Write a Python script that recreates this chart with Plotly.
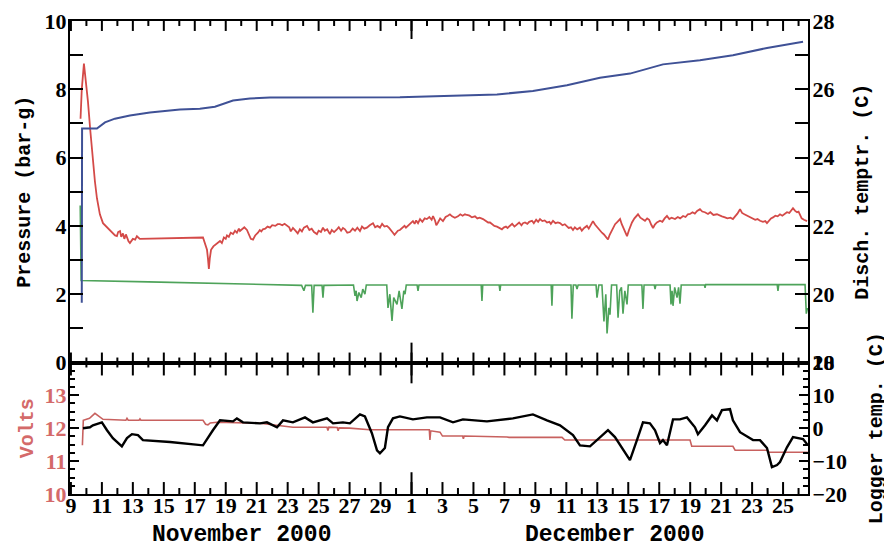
import plotly.graph_objects as go

# x values are days elapsed since 9 November 2000 00:00
X_RANGE_DAYS = [-0.06, 47.61]

# Top panel: discharge temperature (blue, right axis, deg C)
DISCH_T_DAY = [0.70, 0.72, 1.68, 2.2, 2.84, 3.81, 5.10, 7.04, 8.33, 9.30, 10.47, 11.56, 12.86,
               14.79, 21.25, 27.52, 29.84, 32.04, 34.17, 36.11, 38.24, 40.63, 42.76, 44.96, 47.29]
DISCH_T_VAL = [19.75, 24.85, 24.85, 25.03, 25.14, 25.23, 25.32, 25.41, 25.43, 25.49, 25.67, 25.73, 25.76,
               25.76, 25.77, 25.85, 25.95, 26.12, 26.34, 26.46, 26.73, 26.85, 27.00, 27.21, 27.39]

# Top panel: pressure (red, left axis, bar-g)
PRESS_A_DAY = [0.62, 0.70, 0.84, 0.95, 1.10, 1.25, 1.42, 1.55, 1.68, 1.87, 2.07, 2.25, 2.40, 2.52, 2.70, 2.85,
               2.97, 3.05, 3.17, 3.25, 3.36, 3.45, 3.55, 3.62, 3.72, 3.81, 3.92, 4.00, 4.15, 4.26, 4.35, 4.45,
               8.53, 8.65, 8.79, 8.85, 8.91, 8.97, 9.05, 9.20, 9.35, 9.50, 9.63, 9.75, 9.88, 10.0, 10.08,
               10.20, 10.32, 10.47, 10.60, 10.72, 10.85, 10.92, 11.05, 11.20, 11.37, 11.50, 11.62, 11.76,
               11.90, 12.08, 12.20, 12.30, 12.40, 12.55, 12.70, 12.86, 13.00, 13.20, 13.35, 13.50, 13.65,
               13.80, 13.95, 14.10, 14.20, 14.34, 14.50, 14.65, 14.79, 14.92, 15.05, 15.25, 15.40, 15.55,
               15.70, 15.89, 16.00, 16.15, 16.28, 16.40, 16.55, 16.73, 16.85, 17.00, 17.18, 17.30, 17.45,
               17.57, 17.70, 17.85, 18.02, 18.20, 18.35, 18.50, 18.67, 18.80, 18.95, 19.12, 19.30, 19.51,
               19.65, 19.80, 19.96, 20.10, 20.25, 20.41, 20.55, 20.68, 20.80, 20.90, 21.00, 21.12, 21.25,
               21.40, 21.55, 21.64, 21.80, 21.95, 22.09, 22.20, 22.30, 22.42, 22.55, 22.70, 22.85, 22.99,
               23.15, 23.30, 23.39, 23.52, 23.60, 23.71, 23.85, 24.03, 24.20, 24.35, 24.48, 24.62, 24.80,
               25.00, 25.15, 25.30, 25.45, 25.58, 25.75, 25.90, 26.10, 26.25, 26.40, 26.62, 26.80, 26.95,
               27.07, 27.20, 27.35, 27.52, 27.70, 27.84, 27.95, 28.10, 28.20, 28.36, 28.50, 28.65, 28.81,
               28.95, 29.10, 29.20, 29.33, 29.48, 29.60, 29.78, 29.90, 30.05, 30.18, 30.30, 30.45, 30.60,
               30.75, 30.90, 31.00, 31.14, 31.30, 31.45, 31.59, 31.75, 31.90, 32.04, 32.15, 32.30, 32.43,
               32.55, 32.70, 32.88, 33.00, 33.15, 33.33, 33.45, 33.60, 33.72, 33.85, 34.00, 34.17, 34.30,
               34.43, 34.55, 34.69, 34.80, 34.92, 35.01, 35.15, 35.30, 35.47, 35.58, 35.72, 35.82, 35.92,
               36.05, 36.24, 36.40, 36.50, 36.63, 36.78, 36.95, 37.08, 37.22, 37.35, 37.48, 37.60, 37.72,
               37.85, 38.05, 38.20, 38.35, 38.50, 38.65, 38.80, 39.02, 39.20, 39.35, 39.54, 39.70, 39.85,
               39.99, 40.15, 40.30, 40.45, 40.63, 40.78, 40.95, 41.15, 41.30, 41.50, 41.73, 41.90, 42.05,
               42.25, 42.40, 42.60, 42.76, 42.90, 43.05, 43.22, 43.35, 43.50, 43.67, 43.85, 44.06, 44.20,
               44.35, 44.51, 44.70, 44.85, 44.96, 45.10, 45.22, 45.35, 45.50, 45.65, 45.80, 45.95, 46.10,
               46.25, 46.40, 46.52, 46.64, 46.78, 46.90, 47.00, 47.09, 47.20, 47.35, 47.55]
PRESS_A_VAL = [7.14, 8.0, 8.75, 8.3, 7.64, 6.8, 5.89, 5.3, 4.81, 4.34, 4.08, 4.0, 3.92, 3.85, 3.78, 3.72,
               3.70, 3.82, 3.85, 3.68, 3.78, 3.62, 3.75, 3.66, 3.55, 3.50, 3.56, 3.62, 3.60, 3.70, 3.66, 3.62,
               3.66, 3.50, 3.30, 3.05, 2.74, 3.05, 3.30, 3.40, 3.45, 3.52, 3.56, 3.50, 3.66, 3.62, 3.72,
               3.68, 3.80, 3.76, 3.86, 3.80, 3.92, 3.85, 3.90, 3.96, 3.88, 3.74, 3.62, 3.60,
               3.72, 3.80, 3.88, 3.84, 3.90, 3.92, 3.98, 3.95, 4.02, 4.00, 4.05, 4.05, 4.02,
               4.06, 4.00, 3.96, 3.84, 3.94, 3.86, 3.78, 3.90, 3.84, 3.95, 4.00, 3.88, 3.92,
               3.82, 3.76, 3.86, 3.82, 3.95, 3.86, 3.90, 3.76, 3.88, 3.82, 3.90, 3.96, 3.86,
               3.94, 3.90, 3.80, 3.82, 3.92, 3.86, 3.95, 3.85, 3.98, 3.92, 3.95, 4.02, 4.08,
               3.96, 4.00, 3.95, 4.06, 3.98, 4.00, 3.94, 3.88, 3.80, 3.74, 3.80, 3.86, 3.88,
               3.95, 4.00, 3.95, 4.02, 4.10, 4.14, 4.06, 4.16, 4.08, 4.20, 4.12, 4.22, 4.20,
               4.26, 4.18, 4.29, 4.16, 4.02, 4.10, 4.22, 4.14, 4.26, 4.30, 4.34, 4.28, 4.24,
               4.28, 4.34, 4.30, 4.34, 4.32, 4.30, 4.25, 4.28, 4.22, 4.24, 4.20, 4.14, 4.10,
               4.10, 4.04, 4.00, 3.98, 3.92, 3.90, 3.95, 3.98, 3.94, 4.00, 4.06, 3.98, 4.05,
               4.10, 4.02, 4.08, 4.10, 4.06, 4.12, 4.15, 4.08, 4.18, 4.12, 4.20, 4.14, 4.16,
               4.10, 4.12, 4.06, 4.15, 4.08, 4.10, 4.08, 4.02, 4.05, 4.00, 3.94, 3.96, 3.88,
               3.96, 3.90, 3.95, 3.86, 3.94, 4.00, 3.92, 4.06, 4.14, 4.04, 3.96, 3.85, 3.80,
               3.75, 3.68, 3.60, 3.74, 3.86, 3.95, 4.05, 4.12, 4.20, 4.05, 3.90, 3.76, 3.70,
               3.88, 4.10, 4.22, 4.28, 4.34, 4.24, 4.20, 4.15, 4.22, 4.18, 4.04, 3.94, 4.04,
               4.10, 4.15, 4.12, 4.22, 4.29, 4.20, 4.24, 4.20, 4.26, 4.22, 4.29, 4.26, 4.34,
               4.35, 4.40, 4.36, 4.44, 4.49, 4.42, 4.40, 4.35, 4.40, 4.32, 4.34, 4.30, 4.28,
               4.25, 4.22, 4.24, 4.20, 4.28, 4.36, 4.49, 4.38, 4.34, 4.30, 4.26, 4.23, 4.18,
               4.20, 4.15, 4.12, 4.14, 4.08, 4.16, 4.22, 4.25, 4.30, 4.28, 4.34, 4.30, 4.36,
               4.40, 4.38, 4.46, 4.52, 4.44, 4.40, 4.42, 4.34, 4.22, 4.18, 4.14]

# Top panel: second pressure (green, left axis, bar-g)
PRESS_B_DAY = [0.60, 0.66, 5.0, 10.0, 14.9, 15.05, 15.15, 15.55, 15.63, 15.71, 16.22, 16.28, 16.34,
               18.25, 18.35, 18.42, 18.48, 18.60, 18.75, 18.85, 18.99, 19.08, 20.40, 20.48, 20.60, 20.74,
               20.85, 21.06, 21.2, 21.38, 21.5, 21.58, 21.66, 22.36, 22.42, 22.48, 26.50, 26.55, 26.60,
               27.66, 27.71, 27.76, 31.02, 31.07, 31.12, 32.30, 32.36, 32.45, 32.62, 32.69, 32.76, 33.92,
               33.98, 34.1, 34.3, 34.43, 34.55, 34.63, 34.75, 34.82, 34.92, 35.25, 35.34, 35.45, 35.56,
               35.66, 35.78, 35.92, 36.0, 36.88, 36.95, 37.02, 37.68, 37.73, 37.78, 38.70, 38.76, 38.83,
               38.89, 39.0, 39.15, 39.25, 39.34, 39.42, 40.92, 40.96, 41.00, 45.62, 45.67, 45.72, 47.42,
               47.50, 47.58]
PRESS_B_VAL = [4.6, 2.40, 2.36, 2.31, 2.26, 2.10, 2.26, 2.26, 1.46, 2.26, 2.26, 1.90, 2.26,
               2.27, 1.95, 2.1, 1.80, 2.05, 1.90, 2.15, 2.00, 2.27, 2.27, 1.60, 2.0, 1.22,
               1.9, 1.70, 2.1, 1.57, 2.1, 2.00, 2.27, 2.27, 2.10, 2.27, 2.27, 1.80, 2.27,
               2.27, 2.10, 2.27, 2.27, 1.66, 2.27, 2.27, 1.28, 2.27, 2.27, 2.15, 2.27, 2.27,
               1.90, 2.27, 2.27, 1.20, 2.0, 0.85, 1.6, 1.40, 2.27, 2.27, 1.31, 2.1, 2.2,
               1.43, 2.1, 1.70, 2.27, 2.27, 1.57, 2.27, 2.27, 2.15, 2.27, 2.27, 1.70, 2.1,
               1.66, 2.2, 1.90, 2.2, 1.72, 2.27, 2.27, 2.19, 2.28, 2.28, 2.10, 2.28, 2.28,
               1.43, 1.60]

# Bottom panel: battery volts (red, left axis)
VOLTS_DAY = [0.74, 0.80, 1.2, 1.55, 2.07, 3.0, 3.55, 3.62, 3.70, 4.40, 4.46, 4.52, 8.53, 8.70, 8.85,
             9.0, 9.43, 12.21, 13.05, 14.34, 16.54, 16.60, 16.66, 17.2, 17.26, 17.32, 18.0, 19.3, 23.15,
             23.19, 23.24, 23.84, 24.0, 25.3, 25.35, 25.4, 28.17, 28.3, 31.72, 31.9, 39.99, 40.1, 42.76,
             42.9, 44.96, 45.1, 47.6]
VOLTS_VAL = [11.48, 12.24, 12.30, 12.45, 12.27, 12.24, 12.24, 12.30, 12.24, 12.24, 12.28, 12.24, 12.24,
             12.12, 12.10, 12.16, 12.18, 12.15, 12.10, 12.03, 12.03, 11.93, 12.03, 12.02, 11.92, 12.01,
             12.0, 11.95, 11.95, 11.64, 11.92, 11.88, 11.76, 11.76, 11.68, 11.76, 11.73, 11.72, 11.72,
             11.64, 11.64, 11.45, 11.45, 11.33, 11.33, 11.27, 11.27]

# Bottom panel: logger temperature (black, right axis, deg C)
LOGGER_T_DAY = [0.78, 1.23, 1.42, 2.0, 2.33, 2.71, 3.29, 3.62, 3.94, 4.33, 4.65, 6.40, 8.53, 8.85, 9.17,
                9.63, 10.47, 10.72, 11.11, 12.21, 12.66, 13.31, 13.70, 14.34, 15.12, 15.63, 16.54, 16.93,
                17.57, 18.02, 18.67, 18.99, 19.44, 19.77, 19.96, 20.28, 20.48, 20.80, 21.25, 22.09, 22.99,
                23.84, 24.68, 25.32, 26.87, 28.55, 29.84, 30.75, 31.59, 32.43, 32.88, 33.53, 34.17, 34.69,
                35.14, 36.11, 36.56, 36.95, 37.40, 37.73, 38.05, 38.24, 38.50, 38.89, 39.34, 39.79, 40.31,
                40.50, 40.96, 41.41, 41.73, 42.05, 42.57, 42.76, 43.22, 44.06, 44.51, 44.96, 45.28, 45.61,
                45.80, 46.25, 46.64, 47.29, 47.61]
LOGGER_T_VAL = [0.0, 0.3, 0.9, 1.8, -0.6, -3.0, -5.5, -3.0, -1.8, -2.1, -3.6, -4.2, -5.2, -2.7, -0.6,
                2.4, 2.1, 3.0, 1.8, 1.5, 1.8, 0.3, 2.4, 1.8, 3.3, 1.8, 3.0, 1.5,
                1.8, 1.5, 4.2, 3.6, -1.5, -6.7, -7.6, -6.0, 0.3, 3.0, 3.6, 2.7, 3.3,
                3.3, 1.8, 2.7, 2.1, 3.0, 4.2, 2.4, 0.9, -2.1, -5.2, -5.5, -2.7, -0.6,
                -2.7, -9.7, -3.6, 1.8, 1.5, -0.6, -4.5, -3.6, -5.2, 2.7, 2.7, 3.3, 0.3,
                -1.8, 0.9, 3.9, 2.4, 5.5, 5.8, 2.4, -1.2, -3.6, -3.6, -6.0, -11.8, -11.2,
                -10.3, -5.8, -2.7, -3.3, -5.2]

# x tick labels: day of month for every second day starting 9 Nov (offset 0)
X_TICK_OFFSETS = ["0", "2", "4", "6", "8", "10", "12", "14", "16", "18", "20", "22",
                  "24", "26", "28", "30", "32", "34", "36", "38", "40", "42", "44", "46"]
X_TICK_TEXT = ["9", "11", "13", "15", "17", "19", "21", "23", "25", "27", "29", "1",
               "3", "5", "7", "9", "11", "13", "15", "17", "19", "21", "23", "25"]
DAY_TICKS = list(range(0, 48))   # one frame tick per day, long on labelled days
MONTH_START_DAY = 22             # 1 December 2000
MONTH_LABELS = ["November 2000", "December 2000"]
MONTH_LABEL_DAY = [11.04, 35.08]

MONO = "Liberation Mono"
SERIF = "Liberation Serif"
RED = "#d44a48"
BLUE = "#3f5196"
GREEN = "#4ea35a"
VRED = "#c8615f"
LABEL_RED = "#d46a6a"

FIG_H = 540
MARGIN = dict(l=62, r=84, t=11, b=54)
PLOT_H = FIG_H - MARGIN["t"] - MARGIN["b"]
SPLIT = 0.278

fig = go.Figure()
fig.add_trace(go.Scatter(x=PRESS_B_DAY, y=PRESS_B_VAL, mode="lines",
                         line=dict(color=GREEN, width=1.6), xaxis="x", yaxis="y"))
fig.add_trace(go.Scatter(x=PRESS_A_DAY, y=PRESS_A_VAL, mode="lines",
                         line=dict(color=RED, width=1.8), xaxis="x", yaxis="y"))
fig.add_trace(go.Scatter(x=DISCH_T_DAY, y=DISCH_T_VAL, mode="lines",
                         line=dict(color=BLUE, width=2), xaxis="x", yaxis="y3"))
fig.add_trace(go.Scatter(x=VOLTS_DAY, y=VOLTS_VAL, mode="lines",
                         line=dict(color=VRED, width=1.6), xaxis="x2", yaxis="y2"))
fig.add_trace(go.Scatter(x=LOGGER_T_DAY, y=LOGGER_T_VAL, mode="lines",
                         line=dict(color="black", width=2.4), xaxis="x2", yaxis="y4"))

tickfont = dict(family=SERIF, size=22, color="black", weight="bold")
redtickfont = dict(family=SERIF, size=22, color=LABEL_RED, weight="bold")
titlefont = dict(family=MONO, size=20, color="black", weight="bold")

xcommon = dict(range=X_RANGE_DAYS, showgrid=False, zeroline=False, showline=True,
               linecolor="black", linewidth=2, mirror=True, ticks="",
               tickmode="linear", tick0=0, dtick=2,
               labelalias=dict(zip(X_TICK_OFFSETS, X_TICK_TEXT)), tickfont=tickfont)

fig.update_layout(
    width=884, height=FIG_H,
    margin=MARGIN,
    paper_bgcolor="white", plot_bgcolor="white",
    showlegend=False,
    xaxis=dict(**xcommon, anchor="y", domain=[0, 1], showticklabels=False),
    xaxis2=dict(**xcommon, anchor="y2", domain=[0, 1], showticklabels=True, ticklabelstandoff=-9),
    yaxis=dict(domain=[SPLIT, 1], anchor="x", range=[0, 10], showgrid=False, zeroline=False,
               showline=True, linecolor="black", linewidth=2, ticks="inside", ticklen=13, tickwidth=2,
               tickcolor="black", dtick=2, tickfont=tickfont, ticklabelstandoff=-3, automargin=False,
               minor=dict(dtick=1, ticks="inside", ticklen=13),
               title=dict(text="Pressure (bar-g)", font=titlefont, standoff=9)),
    yaxis3=dict(overlaying="y", side="right", anchor="x", range=[18, 28], showgrid=False,
                zeroline=False, showline=True, linecolor="black", linewidth=2, ticks="inside",
                ticklen=13, tickwidth=2, tickcolor="black", dtick=2, tickfont=tickfont,
                ticklabelstandoff=-2, automargin=False, minor=dict(dtick=1, ticks="inside", ticklen=13),
                title=dict(text="Disch. temptr. (C)", font=titlefont, standoff=21)),
    yaxis2=dict(domain=[0, SPLIT], anchor="x2", range=[10, 13.995], showgrid=False, zeroline=False,
                showline=True, linecolor="black", linewidth=2, ticks="inside", ticklen=9,
                tickwidth=2, tickcolor="black", dtick=1, tickfont=redtickfont, ticklabelstandoff=-3,
                automargin=False, minor=dict(dtick=0.25, ticks="inside", ticklen=5),
                title=dict(text="Volts", font=dict(family=MONO, size=20, color=LABEL_RED, weight="bold"),
                           standoff=6)),
    yaxis4=dict(overlaying="y2", side="right", anchor="x2", range=[-20, 20], showgrid=False,
                zeroline=False, showline=True, linecolor="black", linewidth=2, ticks="inside",
                ticklen=9, tickwidth=2, tickcolor="black", dtick=10, tickfont=tickfont,
                ticklabelstandoff=-2, automargin=False, minor=dict(dtick=2.5, ticks="inside", ticklen=5),
                title=dict(text="Logger temp. (C)", font=titlefont, standoff=22)),
)


def px(p):
    return p / PLOT_H


# day tick marks on the horizontal frame edges: (edge, up_long, down_long, up_short, down_short)
EDGES = [(1.0, 0, 10, 0, 5), (SPLIT, 10, 13, 5, 5), (0.0, 12, 0, 6, 0)]
for y_edge, up_l, dn_l, up_s, dn_s in EDGES:
    for d in DAY_TICKS:
        labelled = d % 2 == 0
        up = up_l if labelled else up_s
        dn = dn_l if labelled else dn_s
        fig.add_shape(type="line", xref="x2", yref="paper", x0=d, x1=d,
                      y0=y_edge - px(dn), y1=y_edge + px(up),
                      line=dict(color="black", width=2))

# longer month-boundary tick marks
for y0, y1 in [(1.0, 0.962), (SPLIT - 0.044, SPLIT + 0.042), (0.0, 0.046)]:
    fig.add_shape(type="line", xref="x2", yref="paper", x0=MONTH_START_DAY, x1=MONTH_START_DAY,
                  y0=y0, y1=y1, line=dict(color="black", width=2))

for label, pos in zip(MONTH_LABELS, MONTH_LABEL_DAY):
    fig.add_annotation(text=label, x=pos, xref="x2", y=-0.086, yref="paper",
                       yanchor="middle", xanchor="center", showarrow=False,
                       font=dict(family=MONO, size=23, color="black", weight="bold"))

fig.write_html("out.html")
